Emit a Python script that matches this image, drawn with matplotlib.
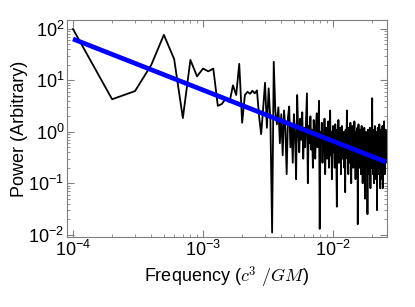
import matplotlib
matplotlib.use("Agg")
import matplotlib.pyplot as plt
import numpy as np

plt.rcParams['font.family'] = ['Liberation Sans', 'DejaVu Sans']
plt.rcParams['mathtext.fontset'] = 'cm'
plt.rcParams['axes.unicode_minus'] = False

# Spectrum: frequency bins are k * df, k = 1..256
df = 1e-4
power = [
    100, 4.3, 6.2, 20, 77, 26, 1.85, 25, 12, 17,
    15, 17, 3.2, 3.5, 4.5, 3.8, 8, 5.2, 21, 1.5,
    5.2, 6.0, 5.5, 6.3, 5.6, 6.4, 2.0, 0.9, 2.8, 9,
    1.2, 7, 1.6, 0.011, 23, 2.5, 1.4, 3.0, 0.6, 2.2,
    0.35, 2.6, 1.1, 0.15, 1.9, 3.1, 0.5, 1.4, 0.25, 2.2,
    0.9, 0.12, 5.2, 1.0, 0.4, 1.8, 0.7, 2.4, 0.3, 1.2,
    0.5, 1.6, 5.6, 0.1, 1.3, 0.6, 2.0, 0.45, 1.1, 0.2,
    1.7, 0.8, 0.3, 1.4, 2.3, 0.5, 0.9, 4.0, 0.013, 1.0,
    0.6, 1.5, 0.25, 0.9, 0.4, 1.8, 0.15, 0.7, 1.2, 0.3,
    0.8, 1.6, 0.2, 0.5, 2.6, 0.35, 1.0, 0.12, 0.6, 1.3,
    0.4, 0.9, 0.2, 1.4, 0.6, 0.3, 0.035, 1.1, 0.5, 1.7,
    0.25, 0.8, 0.45, 1.2, 0.15, 0.7, 1.3, 0.3, 0.9, 0.5,
    1.0, 0.2, 0.6, 0.067, 1.1, 0.4, 0.8, 2.6, 0.3, 0.7,
    0.15, 1.2, 0.5, 0.9, 0.25, 1.5, 0.4, 0.1, 0.8, 0.35,
    1.3, 0.5, 0.2, 0.9, 0.6, 1.6, 0.3, 0.7, 0.12, 1.0,
    0.45, 0.8, 0.25, 1.2, 0.016, 0.6, 1.4, 0.35, 0.7, 0.2,
    0.9, 0.4, 1.1, 0.15, 0.6, 1.3, 0.3, 0.75, 0.1, 0.5,
    1.0, 0.22, 0.65, 1.2, 0.3, 0.05, 0.8, 0.4, 1.0, 0.2,
    0.6, 0.9, 0.3, 0.025, 0.7, 1.1, 0.25, 0.5, 0.9, 0.15,
    0.6, 1.2, 0.35, 0.08, 0.7, 0.45, 1.0, 0.2, 0.6, 4.5,
    0.3, 0.8, 0.15, 1.1, 0.4, 0.6, 0.1, 0.9, 0.35, 1.3,
    0.2, 0.55, 0.8, 0.12, 0.6, 1.0, 0.3, 0.03, 0.7, 0.45,
    1.2, 0.25, 0.6, 0.9, 0.15, 0.5, 1.4, 0.3, 0.7, 0.08,
    0.55, 1.0, 0.2, 0.65, 1.1, 0.35, 0.12, 0.8, 0.4, 1.3,
    0.08, 0.6, 1.0, 0.3, 0.7, 0.2, 1.6, 0.4, 0.55, 0.15,
    0.9, 0.35, 0.7, 1.1, 0.25, 0.5,
]
freq = df * np.arange(1, len(power) + 1)

# Power-law fit endpoints
fit_freq = [1e-4, 2.56e-2]
fit_power = [64, 0.26]

fig = plt.figure(figsize=(4.15, 3.07), dpi=100)
ax = fig.add_axes([0.1615, 0.228, 0.771, 0.707])

ax.plot(freq, power, color='black', lw=1.3)
ax.plot(fit_freq, fit_power, color='blue', lw=3.4, solid_capstyle='butt')

ax.set_xscale('log')
ax.set_yscale('log')
ax.set_xlim(9e-5, 2.6e-2)
ax.set_ylim(9e-3, 150)

for s in ax.spines.values():
    s.set_color('gray')
ax.tick_params(which='both', direction='in', top=True, right=True, color='gray', labelsize=13)
ax.tick_params(which='major', length=5, pad=2)
ax.tick_params(which='minor', length=2.5)

ax.set_xlabel(r'Frequency ($c^3\ /GM$)', fontsize=13, labelpad=3)
ax.set_ylabel('Power (Arbitrary)', fontsize=13, labelpad=0)

fig.savefig('out.png', dpi=100)
